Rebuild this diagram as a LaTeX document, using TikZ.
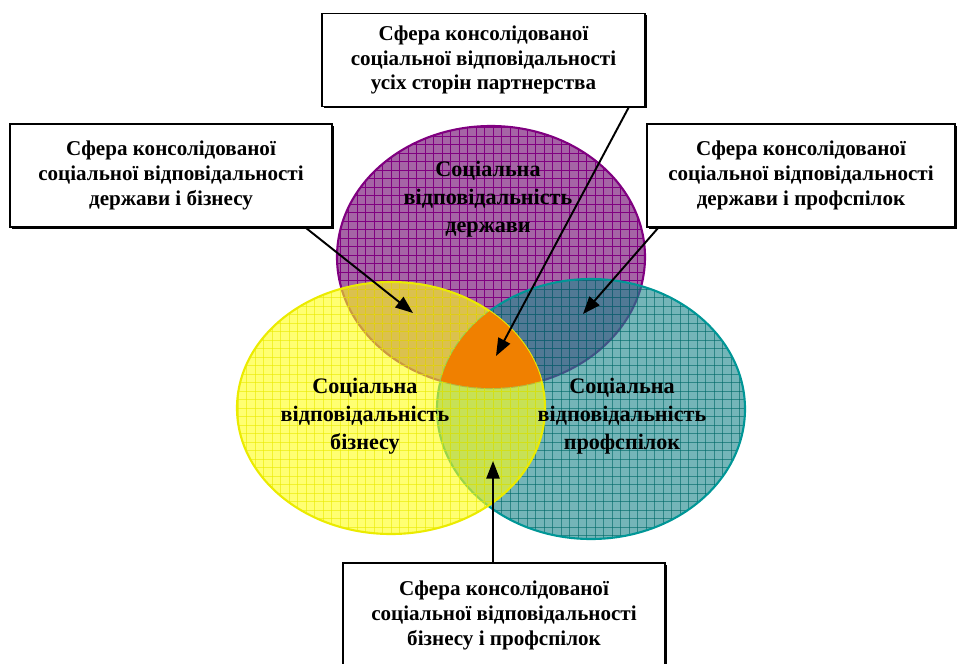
\documentclass[tikz,border=0pt]{standalone}
\usepackage{fontspec}
\setmainfont{Liberation Serif}
\usetikzlibrary{arrows.meta,positioning,calc,shadows}
\definecolor{stfill}{RGB}{165,100,165}
\definecolor{stline}{RGB}{128,0,128}
\definecolor{bizfill}{RGB}{255,255,20}
\definecolor{bizline}{RGB}{235,235,0}
\definecolor{unfill}{RGB}{30,135,140}
\definecolor{unline}{RGB}{0,150,150}
\definecolor{coreorange}{RGB}{240,128,0}
\tikzset{
  sbox/.style={rectangle, draw=black, line width=0.9pt, fill=white, align=center, font=\bfseries\fontsize{12}{14.2}\selectfont, inner sep=2pt, drop shadow={shadow xshift=1pt, shadow yshift=-1pt, opacity=1, fill=black}},
  parr/.style={-{Triangle[length=10pt,width=7.5pt]}, line width=1.1pt, black},
  clbl/.style={align=center, font=\bfseries\fontsize{12.6}{15.8}\selectfont}
}
\newcommand{\gridfill}{%
  \foreach \gx in {229.5,238,...,760} \draw (\gx,110) -- (\gx,550);
  \foreach \gy in {119,127.5,...,550} \draw (225,\gy) -- (760,\gy);
}

\begin{document}
\begin{tikzpicture}[x=0.02cm, y=-0.02cm]
  \useasboundingbox (0,0) rectangle (957,663);
  \clip (0,0) rectangle (957,663);

  % sphere of the state
  \begin{scope}
    \clip (491,257) ellipse [x radius=154, y radius=131];
    \fill[stfill] (330,120) rectangle (650,395);
    \begin{scope}[stline, line width=0.35pt]\gridfill\end{scope}
  \end{scope}
  \draw[stline, line width=1.2pt] (491,257) ellipse [x radius=154, y radius=131];

  % sphere of the trade unions
  \begin{scope}[opacity=0.62]
    \clip (591,409) ellipse [x radius=154, y radius=130];
    \fill[unfill] (430,270) rectangle (750,545);
    \begin{scope}[unline!70!black, line width=0.35pt]\gridfill\end{scope}
  \end{scope}
  \draw[unline, line width=1.2pt] (591,409) ellipse [x radius=154, y radius=130];

  % sphere of business
  \begin{scope}[opacity=0.6]
    \clip (391,408) ellipse [x radius=154, y radius=126];
    \fill[bizfill] (230,275) rectangle (550,540);
    \begin{scope}[bizline, line width=0.35pt]\gridfill\end{scope}
  \end{scope}
  \draw[bizline, line width=1.2pt] (391,408) ellipse [x radius=154, y radius=126];

  % common core
  \begin{scope}
    \clip (491,257) ellipse [x radius=154, y radius=131];
    \clip (591,409) ellipse [x radius=154, y radius=130];
    \fill[coreorange] (391,408) ellipse [x radius=154, y radius=126];
  \end{scope}

  \node[clbl] (st) at (488,199) {Соціальна\\відповідальність\\держави};
  \node[clbl] (biz) at (365,416) {Соціальна\\відповідальність\\бізнесу};
  \node[clbl] (union) at (622,416) {Соціальна\\відповідальність\\профспілок};

  \node[sbox, minimum width=6.46cm, minimum height=1.86cm] (core) at (483.5,60) {Сфера консолідованої\\соціальної відповідальності\\усіх сторін партнерства};
  \node[sbox, minimum width=6.44cm, minimum height=2.06cm] (stbiz) at (171,175.5) {Сфера консолідованої\\соціальної відповідальності\\держави і бізнесу};
  \node[sbox, minimum width=6.16cm, minimum height=2.06cm] (stunion) at (801,175.5) {Сфера консолідованої\\соціальної відповідальності\\держави і профспілок};
  \node[sbox, minimum width=6.44cm, minimum height=2.1cm] (bizunion) at (504,615.5) {Сфера консолідованої\\соціальної відповідальності\\бізнесу і профспілок};

  \coordinate (coretip) at (496,356);
  \coordinate (stbiztip) at (413,313);
  \coordinate (stuniontip) at (583,314);
  \coordinate (bizuniontip) at (493,461);

  \draw[parr] ($(core.south east)+(-17,0)$) -- (coretip);
  \draw[parr] ($(stbiz.south east)+(-27,0)$) -- (stbiztip);
  \draw[parr] ($(stunion.south west)+(12,0)$) -- (stuniontip);
  \draw[parr] (bizunion.north -| bizuniontip) -- (bizuniontip);
\end{tikzpicture}
\end{document}
